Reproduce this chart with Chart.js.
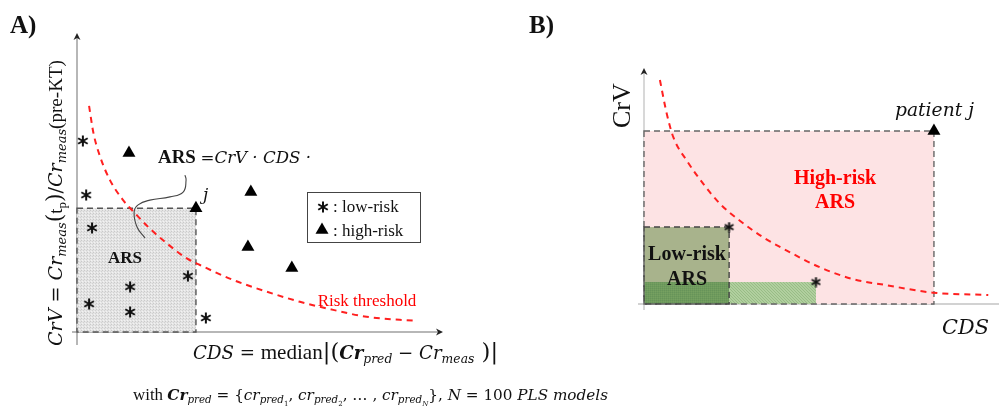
<!DOCTYPE html>
<html>
<head>
<meta charset="utf-8">
<script src="https://cdn.jsdelivr.net/npm/chart.js@4.4.1/dist/chart.umd.min.js"></script>
<style>
  body { margin: 0; background: #fff; }
  #wrap { position: relative; width: 999px; height: 410px; }
  #wrap canvas { position: absolute; left: 0; top: 0; }
</style>
</head>
<body>
<div id="wrap">
  <canvas id="chartA" width="999" height="410"></canvas>
  <canvas id="chartB" width="999" height="410"></canvas>
</div>
<script>
// ---- panel A data (arbitrary units, origin at the axes crossing)
const lowRiskA = [
  {x: 0.16, y: 6.39}, {x: 0.25, y: 4.58}, {x: 0.41, y: 3.48}, {x: 3.03, y: 1.87},
  {x: 1.45, y: 1.51}, {x: 0.33, y: 0.94}, {x: 1.45, y: 0.67}, {x: 3.52, y: 0.47}
]
const highRiskA = [
  {x: 1.42, y: 5.99}, {x: 3.25, y: 4.14}, {x: 4.75, y: 4.68}, {x: 4.67, y: 2.84}, {x: 5.87, y: 2.14}
]
const patientA = highRiskA[1]
const thresholdA = [
  {x: 0.33, y: 7.56}, {x: 0.45, y: 6.65}, {x: 0.63, y: 5.87}, {x: 0.90, y: 5.08},
  {x: 1.26, y: 4.41}, {x: 1.54, y: 4.03}, {x: 1.99, y: 3.46}, {x: 2.45, y: 2.97},
  {x: 2.99, y: 2.47}, {x: 3.36, y: 2.24}, {x: 4.27, y: 1.74}, {x: 5.18, y: 1.35},
  {x: 6.09, y: 1.01}, {x: 7.00, y: 0.74}, {x: 7.91, y: 0.51}, {x: 9.28, y: 0.37}
]
const connectorA = [
  {x: 2.95, y: 5.25}, {x: 2.98, y: 5.08}, {x: 2.90, y: 4.68}, {x: 2.54, y: 4.52},
  {x: 1.99, y: 4.41}, {x: 1.67, y: 4.25}, {x: 1.56, y: 4.01}, {x: 1.64, y: 3.51}, {x: 1.86, y: 3.14}
]

// ---- panel B data
const lowRiskB = [{x: 2.46, y: 3.26}, {x: 4.97, y: 0.93}]
const patientB = {x: 8.38, y: 7.33}
const thresholdB = [
  {x: 0.46, y: 9.49}, {x: 0.66, y: 8.05}, {x: 0.85, y: 7.06}, {x: 1.24, y: 6.07},
  {x: 1.72, y: 5.08}, {x: 2.20, y: 4.24}, {x: 2.77, y: 3.53}, {x: 3.45, y: 2.82},
  {x: 4.22, y: 2.19}, {x: 5.09, y: 1.55}, {x: 6.03, y: 1.06}, {x: 7.00, y: 0.80},
  {x: 8.35, y: 0.48}, {x: 9.95, y: 0.38}
]

const TIMES = '"Liberation Serif", "Times New Roman", serif'
const MATH = '"DejaVu Serif", serif'
const RED = '#ff2020'

function asterisk(size, lw) {
  const c = document.createElement('canvas')
  c.width = c.height = size
  const g = c.getContext('2d')
  g.strokeStyle = '#111'
  g.lineWidth = lw
  const r = size / 2 - 0.5
  for (let k = 0; k < 3; k++) {
    const a = Math.PI / 2 + k * Math.PI / 3
    g.beginPath()
    g.moveTo(size / 2 + r * Math.cos(a), size / 2 + r * Math.sin(a))
    g.lineTo(size / 2 - r * Math.cos(a), size / 2 - r * Math.sin(a))
    g.stroke()
  }
  return c
}
const starA = asterisk(12, 2)
const starB = asterisk(11, 2)

function makePattern(w, h, base, dots) {
  const c = document.createElement('canvas')
  c.width = w; c.height = h
  const g = c.getContext('2d')
  g.fillStyle = base
  g.fillRect(0, 0, w, h)
  dots.forEach(([x, y, col]) => { g.fillStyle = col; g.fillRect(x, y, 1, 1) })
  return g.createPattern(c, 'repeat')
}

function fontFor(style, sz) {
  if (style === 't') return `${sz}px ${TIMES}`
  if (style === 'tb') return `bold ${sz}px ${TIMES}`
  if (style === 'mi') return `italic ${sz}px ${MATH}`
  if (style === 'mbi') return `italic bold ${sz}px ${MATH}`
  return `${sz}px ${MATH}`
}

// segments: [text, style, level, scale]; math styles use opts.mathScale
function richText(ctx, segs, x, y, size, opts = {}) {
  const ms = opts.mathScale || 1
  const segSize = (s, st, lv, sc) => s * sc * Math.pow(0.68, lv) * (st[0] === 'm' ? ms : 1)
  const measure = (s) => {
    let w = 0
    segs.forEach(([t, st, lv = 0, sc = 1]) => {
      ctx.font = fontFor(st, segSize(s, st, lv, sc))
      w += ctx.measureText(t).width
    })
    return w
  }
  if (opts.width) size = size * opts.width / measure(size)
  let w = measure(size)
  let cx = opts.align === 'center' ? x - w / 2 : x
  ctx.fillStyle = opts.color || '#111'
  ctx.textBaseline = 'alphabetic'
  ctx.textAlign = 'left'
  segs.forEach(([t, st, lv = 0, sc = 1]) => {
    ctx.font = fontFor(st, segSize(size, st, lv, sc))
    const dy = lv === 0 ? 0 : (lv === 1 ? size * 0.2 : size * 0.36)
    ctx.fillText(t, cx, y + dy)
    cx += ctx.measureText(t).width
  })
}

function arrowHead(ctx, x, y, dir) {
  ctx.beginPath()
  if (dir === 'up') { ctx.moveTo(x, y); ctx.lineTo(x - 3.5, y + 7); ctx.lineTo(x, y + 5); ctx.lineTo(x + 3.5, y + 7) }
  else { ctx.moveTo(x, y); ctx.lineTo(x - 7, y - 3.5); ctx.lineTo(x - 5, y); ctx.lineTo(x - 7, y + 3.5) }
  ctx.closePath()
  ctx.fillStyle = '#222'
  ctx.fill()
}

function triangle(ctx, x, y, r) {
  ctx.beginPath()
  ctx.moveTo(x, y - r)
  ctx.lineTo(x + r * 0.866, y + r / 2)
  ctx.lineTo(x - r * 0.866, y + r / 2)
  ctx.closePath()
  ctx.fillStyle = '#000'
  ctx.fill()
}

const baseOptions = (pad) => ({
  responsive: false,
  animation: false,
  events: [],
  layout: { padding: pad },
  plugins: { legend: { display: false }, tooltip: { enabled: false } },
  scales: {
    x: { type: 'linear', min: 0, max: 10, display: false },
    y: { type: 'linear', min: 0, max: 10, display: false }
  }
})

// ---------------- panel A
const panelA = {
  id: 'panelA',
  beforeDatasetsDraw(chart) {
    const { ctx, chartArea: ca, scales: { x, y } } = chart
    const x0 = x.getPixelForValue(0), y0 = y.getPixelForValue(0)
    ctx.save()
    // axes
    ctx.strokeStyle = '#a0a0a0'
    ctx.lineWidth = 1.5
    ctx.beginPath()
    ctx.moveTo(x0, y0 + 13); ctx.lineTo(x0, ca.top + 3)
    ctx.moveTo(x0 - 5, y0); ctx.lineTo(ca.right - 3, y0)
    ctx.stroke()
    arrowHead(ctx, x0, ca.top, 'up')
    arrowHead(ctx, ca.right, y0, 'right')
    // ARS area of patient j
    const x1 = x.getPixelForValue(patientA.x), y1 = y.getPixelForValue(patientA.y)
    ctx.fillStyle = makePattern(3, 3, '#e4e4e4', [[0, 0, '#c9c9c9'], [2, 1, '#d2d2d2'], [1, 2, '#f2f2f2']])
    ctx.fillRect(x0, y1, x1 - x0, y0 - y1)
    ctx.setLineDash([6, 4])
    ctx.strokeStyle = '#555'
    ctx.lineWidth = 1.4
    ctx.strokeRect(x0, y1, x1 - x0, y0 - y1)
    ctx.restore()
  },
  afterDraw(chart) {
    const { ctx } = chart
    ctx.save()
    ctx.font = `bold 25px ${TIMES}`
    ctx.fillStyle = '#111'
    ctx.fillText('A)', 10, 33)
    richText(ctx, [['ARS ', 'tb'], ['=', 'm'], ['CrV · CDS ·', 'mi']], 158, 163, 20, { width: 153, mathScale: 0.88 })
    richText(ctx, [['ARS', 'tb']], 125, 263, 17, { align: 'center' })
    richText(ctx, [['j', 'mi']], 203, 200, 17)
    // legend
    ctx.strokeStyle = '#444'
    ctx.lineWidth = 1
    ctx.strokeRect(307.5, 192.5, 113, 50)
    ctx.drawImage(starA, 317, 201)
    triangle(ctx, 322, 230, 7.5)
    richText(ctx, [[': low-risk', 't']], 333, 212, 17)
    richText(ctx, [[': high-risk', 't']], 333, 236, 17)
    richText(ctx, [['Risk threshold', 't']], 367, 306, 17, { align: 'center', color: '#ff0000' })
    // y title
    ctx.save()
    ctx.translate(62, 346)
    ctx.rotate(-Math.PI / 2)
    richText(ctx, [['CrV', 'mi'], [' = ', 'm'], ['Cr', 'mi'], ['meas', 'mi', 1], ['(', 'm', 0, 1.15], ['t', 't'], ['p', 't', 1],
      [')', 'm', 0, 1.15], ['/', 'm'], ['Cr', 'mi'], ['meas', 'mi', 1], ['(pre-KT)', 't']], 0, 0, 20, { width: 286 })
    ctx.restore()
    // x title
    richText(ctx, [['CDS', 'mi'], [' = ', 'm'], ['median', 't'], ['|(', 'm', 0, 1.25], ['Cr', 'mbi'], ['pred', 'mi', 1],
      [' − ', 'm'], ['Cr', 'mi'], ['meas', 'mi', 1], [' )|', 'm', 0, 1.25]], 193, 359, 21, { width: 305, mathScale: 0.86 })
    richText(ctx, [['with ', 't'], ['Cr', 'mbi'], ['pred', 'mi', 1], [' = {', 'm'], ['cr', 'mi'], ['pred', 'mi', 1], ['1', 'm', 2],
      [', ', 'm'], ['cr', 'mi'], ['pred', 'mi', 1], ['2', 'm', 2], [', … , ', 'm'], ['cr', 'mi'], ['pred', 'mi', 1], ['N', 'mi', 2],
      ['}, ', 'm'], ['N', 'mi'], [' = 100 ', 'm'], ['PLS models', 'mi']], 133, 400, 17, { width: 475, mathScale: 0.9 })
    ctx.restore()
  }
}

new Chart(document.getElementById('chartA'), {
  type: 'scatter',
  data: {
    datasets: [
      { data: thresholdA, showLine: true, borderColor: RED, borderWidth: 2, borderDash: [6, 5],
        pointRadius: 0, cubicInterpolationMode: 'monotone', clip: false },
      { data: connectorA, showLine: true, borderColor: '#444', borderWidth: 1.1, pointRadius: 0, tension: 0.45, clip: false },
      { data: lowRiskA, pointStyle: starA, pointRadius: 6, clip: false },
      { data: highRiskA, pointStyle: 'triangle', pointRadius: 7.5, backgroundColor: '#000', borderColor: '#000',
        borderWidth: 0, clip: false }
    ]
  },
  options: baseOptions({ left: 77, right: 556, top: 33, bottom: 78 }),
  plugins: [panelA]
})

// ---------------- panel B
const panelB = {
  id: 'panelB',
  beforeDatasetsDraw(chart) {
    const { ctx, chartArea: ca, scales: { x, y } } = chart
    const px = (v) => x.getPixelForValue(v), py = (v) => y.getPixelForValue(v)
    const x0 = px(0), y0 = py(0)
    ctx.save()
    ctx.strokeStyle = '#c4c4c4'
    ctx.lineWidth = 1.3
    ctx.beginPath()
    ctx.moveTo(x0, y0 + 6); ctx.lineTo(x0, ca.top + 3)
    ctx.moveTo(x0 - 6, y0); ctx.lineTo(999, y0)
    ctx.stroke()
    arrowHead(ctx, x0, ca.top, 'up')
    // high-risk ARS of patient j
    ctx.fillStyle = '#fde3e4'
    ctx.fillRect(x0, py(patientB.y), px(patientB.x) - x0, y0 - py(patientB.y))
    // low-risk ARS
    const a = lowRiskB[0], b = lowRiskB[1]
    ctx.fillStyle = '#a8b38c'
    ctx.fillRect(x0, py(a.y), px(a.x) - x0, y0 - py(a.y))
    ctx.fillStyle = makePattern(2, 2, '#6f9b5c', [[0, 0, '#66935a'], [1, 1, '#76a062']])
    ctx.fillRect(x0, py(b.y), px(a.x) - x0, y0 - py(b.y))
    ctx.fillStyle = makePattern(3, 3, '#b1cf9f', [[0, 0, '#98bd86'], [1, 1, '#98bd86'], [2, 2, '#98bd86']])
    ctx.fillRect(px(a.x), py(b.y), px(b.x) - px(a.x), y0 - py(b.y))
    ctx.setLineDash([6, 4])
    ctx.strokeStyle = '#666'
    ctx.lineWidth = 1.4
    ctx.strokeRect(x0, py(patientB.y), px(patientB.x) - x0, y0 - py(patientB.y))
    ctx.strokeStyle = '#444'
    ctx.strokeRect(x0, py(a.y), px(a.x) - x0, y0 - py(a.y))
    ctx.restore()
  },
  afterDraw(chart) {
    const { ctx } = chart
    ctx.save()
    ctx.font = `bold 25px ${TIMES}`
    ctx.fillStyle = '#111'
    ctx.textBaseline = 'alphabetic'
    ctx.fillText('B)', 529, 33)
    ctx.save()
    ctx.translate(630, 128)
    ctx.rotate(-Math.PI / 2)
    richText(ctx, [['CrV', 't']], 0, 0, 26)
    ctx.restore()
    richText(ctx, [['patient j', 'mi']], 895, 116, 17, { width: 79 })
    richText(ctx, [['High-risk', 'tb']], 835, 184, 20, { align: 'center', color: '#ff0000' })
    richText(ctx, [['ARS', 'tb']], 835, 208, 20, { align: 'center', color: '#ff0000' })
    richText(ctx, [['Low-risk', 'tb']], 687, 260, 20, { align: 'center' })
    richText(ctx, [['ARS', 'tb']], 687, 285, 20, { align: 'center' })
    richText(ctx, [['CDS', 'mi']], 942, 334, 22, { width: 47 })
    ctx.restore()
  }
}

new Chart(document.getElementById('chartB'), {
  type: 'scatter',
  data: {
    datasets: [
      { data: thresholdB, showLine: true, borderColor: RED, borderWidth: 2, borderDash: [6, 5],
        pointRadius: 0, cubicInterpolationMode: 'monotone', clip: false },
      { data: lowRiskB, pointStyle: starB, pointRadius: 6, clip: false },
      { data: [patientB], pointStyle: 'triangle', pointRadius: 7.5, backgroundColor: '#000', borderColor: '#000',
        borderWidth: 0, clip: false }
    ]
  },
  options: baseOptions({ left: 644, right: 9, top: 68, bottom: 106 }),
  plugins: [panelB]
})
</script>
</body>
</html>
